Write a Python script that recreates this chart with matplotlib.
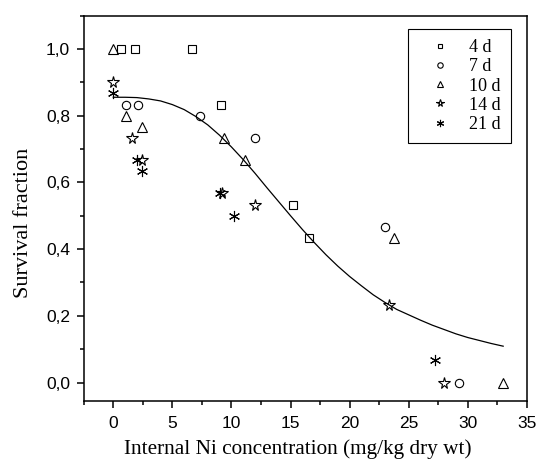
import numpy as np
import matplotlib
matplotlib.use('Agg')
from matplotlib import pyplot as plt
from matplotlib.ticker import MultipleLocator, FuncFormatter

# survival fraction vs internal Ni, one series per exposure time
x_4d = [0.65, 1.85, 6.7, 9.1, 15.2, 16.6]
y_4d = [1.0, 1.0, 1.0, 0.833, 0.533, 0.433]

x_7d = [1.1, 2.1, 7.3, 12.0, 23.0, 29.25]
y_7d = [0.833, 0.833, 0.8, 0.733, 0.467, 0.0]

x_10d = [0.0, 1.05, 2.45, 9.4, 11.15, 23.8, 33.0]
y_10d = [1.0, 0.8, 0.767, 0.733, 0.667, 0.433, 0.0]

x_14d = [0.0, 1.6, 2.45, 9.2, 12.0, 23.3, 27.95]
y_14d = [0.9, 0.733, 0.667, 0.567, 0.533, 0.233, 0.0]

x_21d = [0.0, 2.0, 2.4, 9.05, 10.2, 27.2]
y_21d = [0.867, 0.667, 0.633, 0.567, 0.5, 0.067]

# fitted curve
fit_x = [0, 1, 2, 3, 4, 5, 6, 7, 8, 9, 10, 11, 12, 13, 14, 15, 16, 17,
         18, 19, 20, 21, 22, 23, 24, 25, 26, 27, 28, 29, 30, 31, 32, 33]
fit_y = [0.855, 0.855, 0.854, 0.850, 0.844, 0.833, 0.818, 0.797, 0.772,
         0.741, 0.706, 0.668, 0.627, 0.584, 0.542, 0.500, 0.459, 0.420,
         0.383, 0.349, 0.318, 0.290, 0.263, 0.240, 0.219, 0.203, 0.187,
         0.172, 0.159, 0.146, 0.135, 0.126, 0.117, 0.109]

labels = ["4 d", "7 d", "10 d", "14 d", "21 d"]

serif = "Liberation Serif"
sans = "Liberation Sans"

fig = plt.figure(figsize=(5.37, 4.70), dpi=100)
ax = fig.add_axes([0.156, 0.147, 0.825, 0.820])

ax.plot(fit_x, fit_y, color="black", lw=0.9, zorder=1)

mk = dict(linestyle="none", mfc="none", mec="black", mew=0.8)
ax.plot(x_4d, y_4d, marker="s", ms=5.3, label=labels[0], **mk)
ax.plot(x_7d, y_7d, marker="o", ms=6, label=labels[1], **mk)
ax.plot(x_10d, y_10d, marker="^", ms=7, label=labels[2], **mk)
ax.plot(x_14d, y_14d, marker="*", ms=8.5, label=labels[3], **mk)
ax.plot(x_21d, y_21d, marker=(6, 2, 0), ms=8, label=labels[4], **mk)

ax.set_xlim(-2.5, 35)
ax.set_ylim(-0.055, 1.1)
ax.xaxis.set_major_locator(MultipleLocator(5))
ax.xaxis.set_minor_locator(MultipleLocator(2.5))
ax.yaxis.set_major_locator(MultipleLocator(0.2))
ax.yaxis.set_minor_locator(MultipleLocator(0.1))
ax.yaxis.set_major_formatter(FuncFormatter(lambda v, p: ("%.1f" % v).replace(".", ",")))

ax.tick_params(which="both", direction="out", width=1.1, top=False, right=False)
ax.tick_params(which="major", length=4.8, labelsize=12.5)
ax.tick_params(axis="x", which="major", pad=6)
ax.tick_params(axis="y", which="major", pad=5)
ax.tick_params(which="minor", length=2.6)
for lab in ax.get_xticklabels() + ax.get_yticklabels():
    lab.set_fontfamily(sans)
for s in ax.spines.values():
    s.set_linewidth(1.1)

ax.set_xlabel("Internal Ni concentration (mg/kg dry wt)", fontfamily=serif, fontsize=15.3)
ax.set_ylabel("Survival fraction", fontfamily=serif, fontsize=16)
ax.xaxis.set_label_coords(0.483, -0.10)
ax.yaxis.set_label_coords(-0.115, 0.462)

leg = ax.legend(loc="upper right", bbox_to_anchor=(0.964, 0.964), borderaxespad=0,
                prop={"family": serif, "size": 13},
                markerscale=0.65, fancybox=False, framealpha=1, edgecolor="black",
                handlelength=2.4, handletextpad=0.45, labelspacing=0.12, borderpad=0.55)
leg.get_frame().set_linewidth(0.8)

plt.savefig("out.png", dpi=100)
